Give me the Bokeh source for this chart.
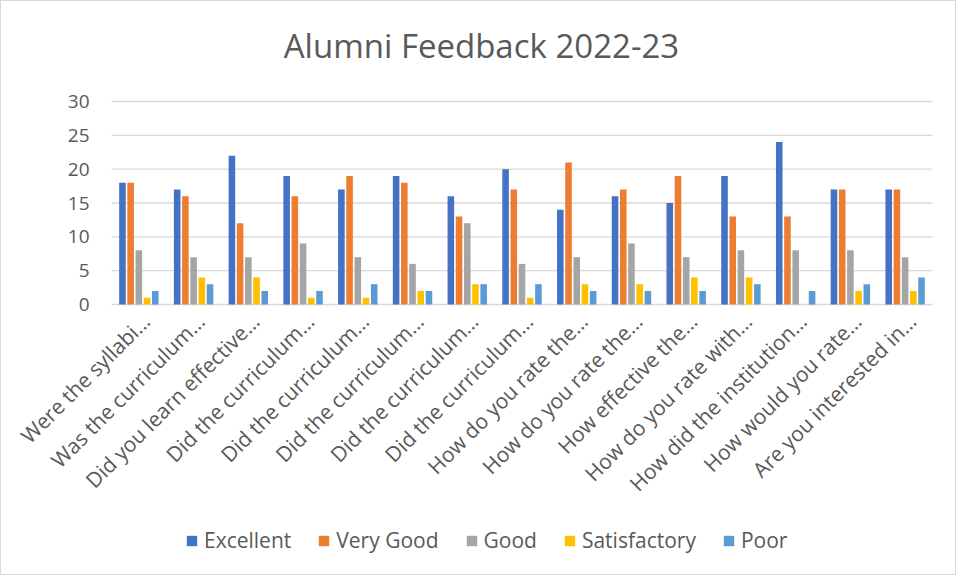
import math
from bokeh.plotting import figure
from bokeh.models import ColumnDataSource, Legend, LegendItem, Range1d, Label
from bokeh.core.properties import value
from bokeh.transform import dodge
from bokeh.embed import file_html
from bokeh.resources import INLINE

title_text = "Alumni Feedback 2022-23"
questions = ["Were the syllabi…", "Was the curriculum…", "Did you learn effective…",
             "Did the curriculum…", "Did the curriculum…", "Did the curriculum…",
             "Did the curriculum…", "Did the curriculum…", "How do you rate the…",
             "How do you rate the…", "How effective the…", "How do you rate with…",
             "How did the institution…", "How would you rate…", "Are you interested in…"]
excellent = [18, 17, 22, 19, 17, 19, 16, 20, 14, 16, 15, 19, 24, 17, 17]
very_good = [18, 16, 12, 16, 19, 18, 13, 17, 21, 17, 19, 13, 13, 17, 17]
good = [8, 7, 7, 9, 7, 6, 12, 6, 7, 9, 7, 8, 8, 8, 7]
satisfactory = [1, 4, 4, 1, 1, 2, 3, 1, 3, 3, 4, 4, 0, 2, 2]
poor = [2, 3, 2, 2, 3, 2, 3, 3, 2, 2, 2, 3, 2, 3, 4]
series_names = ["Excellent", "Very Good", "Good", "Satisfactory", "Poor"]
colors = ["#4472C4", "#ED7D31", "#A5A5A5", "#FFC000", "#5B9BD5"]
y_ticks = [0, 5, 10, 15, 20, 25, 30]

n = len(questions)
xs = list(range(1, n + 1))
src = ColumnDataSource(dict(x=xs, q=questions, zero=[0] * n, excellent=excellent,
                            very_good=very_good, good=good, satisfactory=satisfactory, poor=poor))
cols = ["excellent", "very_good", "good", "satisfactory", "poor"]

FONT = "Open Sans"
TXT = "#595959"
GRID = "#D9D9D9"
PX_PER_Y = 203 / 30.0
PX_PER_X = 821 / float(n)
y_top = (304 - 1) / PX_PER_Y
y_bottom = -(574 - 304) / PX_PER_Y
x_left = 0.5 - 110 / PX_PER_X
x_right = n + 0.5 + 1 / PX_PER_X

p = figure(frame_width=932, frame_height=573, output_backend="svg", toolbar_location=None,
           title=None, x_axis_location=None, y_axis_location=None,
           x_range=Range1d(x_left, x_right), y_range=Range1d(y_bottom, y_top),
           min_border_left=0, min_border_right=22, min_border_top=0, min_border_bottom=0)

# horizontal gridlines over the category span only
grid_src = ColumnDataSource(dict(y=y_ticks, x0=[0.5] * len(y_ticks), x1=[n + 0.5] * len(y_ticks),
                                 lab=[str(t) for t in y_ticks]))
p.segment(x0="x0", y0="y", x1="x1", y1="y", source=grid_src, line_color=GRID, line_width=1.3)

# y tick labels
p.text(x="x0", y="y", text="lab", source=grid_src, text_align="right", text_baseline="middle",
       x_offset=-22, text_font=value(FONT), text_font_size=value("19px"), text_color=TXT)

offsets = [-0.3, -0.15, 0.0, 0.15, 0.3]
items = []
for c, name, col, off in zip(cols, series_names, colors, offsets):
    r = p.vbar(x=dodge("x", off), top=c, width=0.12, source=src, color=col, line_color=None)
    items.append(LegendItem(label=name, renderers=[r]))

# category labels under the baseline, rotated like the reference
p.text(x="x", y="zero", text="q", source=src, angle=math.pi / 4,
       text_align="right", text_baseline="middle", x_offset=7, y_offset=13,
       text_font=value(FONT), text_font_size=value("21px"), text_color=TXT)

# chart title
p.add_layout(Label(x=7.26, y=(304 - 45) / PX_PER_Y, text=title_text,
                   text_align="center", text_baseline="middle",
                   text_font=FONT, text_font_size="33px", text_color=TXT))

p.outline_line_color = None
p.background_fill_color = "white"
p.border_fill_color = "white"
p.grid.visible = False

legend = Legend(items=items, orientation="horizontal", location=(184, 20))
legend.label_text_font = FONT
legend.label_text_font_size = "21px"
legend.label_text_color = TXT
legend.glyph_width = 13
legend.glyph_height = 13
legend.spacing = 26
legend.label_standoff = 6
legend.padding = 0
legend.margin = 0
legend.border_line_color = None
legend.background_fill_alpha = 0
p.add_layout(legend, "center")

p.styles = {"border": "1px solid #D9D9D9", "box-sizing": "border-box"}

open("out.html", "w").write(file_html(p, INLINE))
